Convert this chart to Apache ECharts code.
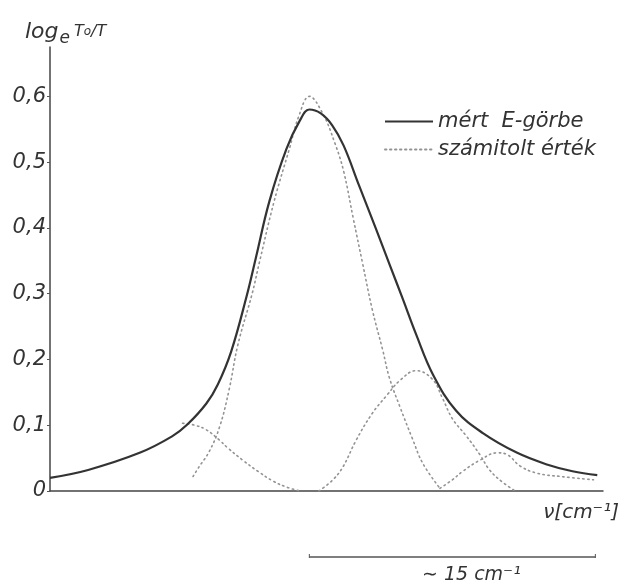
<!DOCTYPE html>
<html>
<head>
<meta charset="utf-8">
<script src="https://cdn.jsdelivr.net/npm/echarts@6/dist/echarts.min.js"></script>
<style>html,body{margin:0;padding:0;background:#fff;}#c{width:637px;height:584px;}</style>
</head>
<body>
<div id="c"></div>
<script>
// ---- data (x in cm^-1, arbitrary origin; y = log_e T0/T) ----
const measuredCurve = [
  [0, 0.020], [2.0, 0.032], [4.7, 0.058], [6.4, 0.083], [7.2, 0.101], [8.2, 0.133],
  [8.8, 0.162], [9.5, 0.212], [10.3, 0.295], [10.8, 0.355], [11.5, 0.44], [12.4, 0.52],
  [13.1, 0.563], [13.6, 0.580], [14.2, 0.574], [14.8, 0.556], [15.4, 0.525], [16.2, 0.465],
  [17.1, 0.398], [17.8, 0.345], [18.5, 0.292], [19.2, 0.238], [20.1, 0.176], [21.3, 0.122],
  [22.7, 0.088], [24.5, 0.058], [26.1, 0.040], [27.4, 0.030], [28.7, 0.024]
];
const mainComponent = [
  [7.5, 0.022], [7.8, 0.036], [8.35, 0.060], [8.9, 0.098], [9.4, 0.155], [9.85, 0.222],
  [10.6, 0.30], [11.0, 0.35], [11.75, 0.44], [12.55, 0.52], [13.05, 0.57], [13.6, 0.600],
  [14.3, 0.574], [14.95, 0.528], [15.4, 0.486], [15.9, 0.415], [16.4, 0.345], [16.9, 0.276],
  [17.45, 0.214], [17.8, 0.172], [18.35, 0.128], [19.0, 0.080], [19.55, 0.042], [20.45, 0.004]
];
const leftComponent = [
  [6.95, 0.103], [7.6, 0.100], [8.2, 0.093], [8.9, 0.077], [9.3, 0.066], [10.1, 0.047],
  [10.9, 0.030], [11.7, 0.015], [12.4, 0.006], [13.1, 0.0]
];
const rightComponent = [
  [14.1, 0.0], [14.8, 0.016], [15.35, 0.036], [16.05, 0.077], [16.9, 0.118], [17.65, 0.145],
  [18.35, 0.168], [19.2, 0.183], [20.05, 0.170], [20.6, 0.140], [21.1, 0.110], [21.85, 0.083],
  [22.55, 0.055], [23.05, 0.032], [23.75, 0.013], [24.4, 0.0]
];
const tailComponent = [
  [20.45, 0.004], [21.1, 0.017], [21.65, 0.030], [22.55, 0.047], [23.45, 0.058], [24.0, 0.055],
  [24.65, 0.038], [25.55, 0.027], [26.8, 0.022], [28.5, 0.017]
];
const yTickLabels = ['0', '0,1', '0,2', '0,3', '0,4', '0,5', '0,6'];
const seriesNames = ['mért  E-görbe', 'számitolt érték'];
const scaleBar = { start: 13.6, length: 15, label: '∼ 15 cm⁻¹' };
const xRange = [0, 29];
const yRange = [0, 0.675];

const FONT = 'DejaVu Sans';
const INK = '#333';
const chart = echarts.init(document.getElementById('c'), null, { renderer: 'canvas' });

const dottedStyle = { color: '#939393', width: 1.6, type: [1.4, 3.6], cap: 'round' };
function dotted(data) {
  return {
    type: 'line', name: seriesNames[1], data: data, smooth: 0.4, symbol: 'none',
    showSymbol: false, lineStyle: dottedStyle, itemStyle: { color: '#939393' },
    silent: true, z: 2
  };
}

const option = {
  animation: false,
  backgroundColor: '#fff',
  title: {
    text: '{a|log}{b|e}{c|T}{d|o}{c|/T}',
    left: 20, top: 12,
    textStyle: {
      fontWeight: 'normal',
      rich: {
        a: { fontFamily: FONT, fontStyle: 'italic', fontWeight: 'normal', fontSize: 22, color: INK, lineHeight: 30, verticalAlign: 'middle' },
        b: { fontFamily: FONT, fontStyle: 'italic', fontWeight: 'normal', fontSize: 17, color: INK, lineHeight: 16, verticalAlign: 'bottom', padding: [0, 4, 0, 1] },
        c: { fontFamily: FONT, fontStyle: 'italic', fontWeight: 'normal', fontSize: 16, color: INK, lineHeight: 16, verticalAlign: 'middle' },
        d: { fontFamily: FONT, fontStyle: 'italic', fontWeight: 'normal', fontSize: 12, color: INK, lineHeight: 12, verticalAlign: 'middle' }
      }
    }
  },
  legend: {
    data: [
      { name: seriesNames[0] },
      { name: seriesNames[1] }
    ],
    orient: 'vertical', left: 379, top: 106,
    itemWidth: 48, itemHeight: 14, itemGap: 7,
    itemStyle: { opacity: 0 },
    selectedMode: false,
    textStyle: { fontFamily: FONT, fontStyle: 'italic', fontSize: 21, color: INK }
  },
  grid: { left: 50, right: 34, top: 47, bottom: 93 },
  xAxis: {
    type: 'value', min: xRange[0], max: xRange[1],
    axisLine: { show: true, lineStyle: { color: '#444', width: 1.5 } },
    axisTick: { show: false }, axisLabel: { show: false }, splitLine: { show: false },
    name: 'ν[cm⁻¹]', nameLocation: 'end', nameGap: 16,
    nameTextStyle: { fontFamily: FONT, fontStyle: 'italic', fontSize: 20, color: INK, align: 'right', verticalAlign: 'top', padding: [12, 0, 0, 0] }
  },
  yAxis: {
    type: 'value', min: yRange[0], max: yRange[1], interval: 0.1,
    axisLine: { show: true, lineStyle: { color: '#444', width: 1.5 } },
    axisTick: { show: true, length: 3, lineStyle: { color: '#555' } },
    splitLine: { show: false },
    axisLabel: {
      margin: 4, showMaxLabel: false,
      fontFamily: FONT, fontStyle: 'italic', fontSize: 21, color: INK,
      formatter: function (v) {
        const i = Math.round(v * 10);
        return Math.abs(v * 10 - i) < 1e-6 && yTickLabels[i] !== undefined ? yTickLabels[i] : '';
      }
    }
  },
  series: [
    {
      type: 'line', name: seriesNames[0], data: measuredCurve, smooth: 0.4,
      symbol: 'none', showSymbol: false,
      lineStyle: { color: '#333', width: 2.2 }, itemStyle: { color: '#333' }, z: 3
    },
    dotted(mainComponent),
    dotted(leftComponent),
    dotted(rightComponent),
    dotted(tailComponent)
  ]
};
chart.setOption(option);

// scale bar below the axis, positioned through the x-axis scale
const p0 = chart.convertToPixel({ xAxisIndex: 0, yAxisIndex: 0 }, [scaleBar.start, 0]);
const p1 = chart.convertToPixel({ xAxisIndex: 0, yAxisIndex: 0 }, [scaleBar.start + scaleBar.length, 0]);
const barY = p0[1] + 66;
chart.setOption({
  graphic: [
    { type: 'line', shape: { x1: p0[0], y1: barY, x2: p1[0], y2: barY }, style: { stroke: '#555', lineWidth: 1.5 } },
    { type: 'line', shape: { x1: p0[0], y1: barY - 3, x2: p0[0], y2: barY + 1 }, style: { stroke: '#555', lineWidth: 1 } },
    { type: 'line', shape: { x1: p1[0], y1: barY - 3, x2: p1[0], y2: barY + 1 }, style: { stroke: '#555', lineWidth: 1 } },
    {
      type: 'text', x: (p0[0] + p1[0]) / 2 + 19, y: barY + 18,
      style: { text: scaleBar.label, fontFamily: FONT, fontStyle: 'italic', fontSize: 19, fill: INK, align: 'center', verticalAlign: 'middle' }
    }
  ]
});
</script>
</body>
</html>
